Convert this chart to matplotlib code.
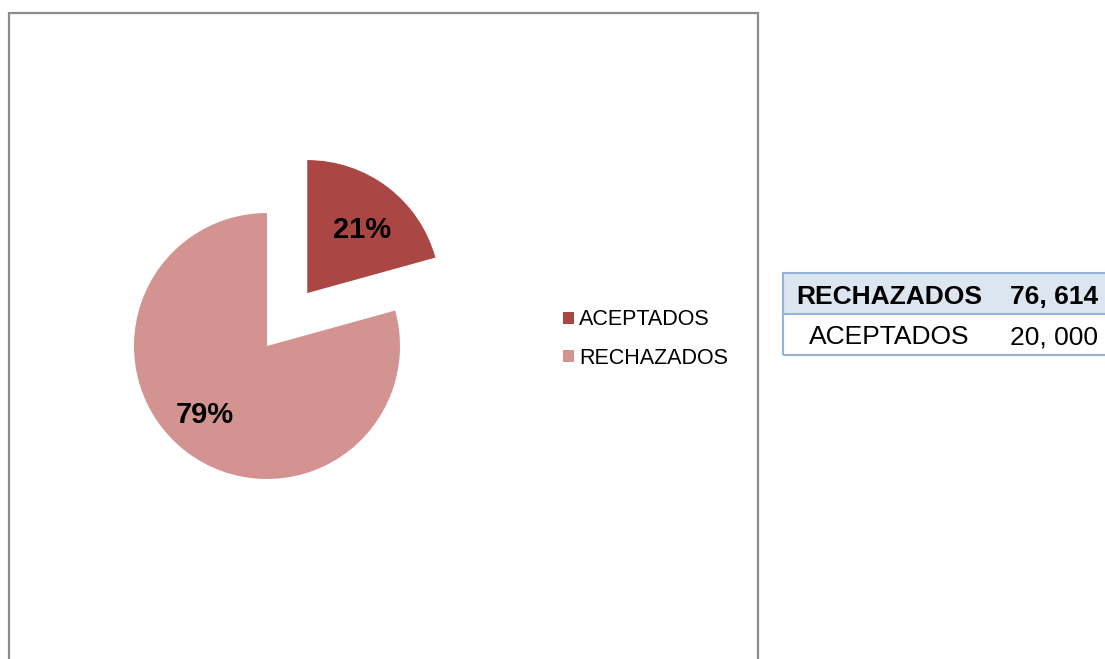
import numpy as np
import matplotlib.pyplot as plt
from matplotlib.patches import Rectangle

plt.rcParams['font.family'] = ['Liberation Sans', 'DejaVu Sans']

# datos
categorias = ['ACEPTADOS', 'RECHAZADOS']
valores = [20000, 76614]
colores = ['#AA4644', '#D39391']
tabla_filas = [('RECHAZADOS', '76, 614'), ('ACEPTADOS', '20, 000')]

W, H = 1105, 659
fig = plt.figure(figsize=(W / 100, H / 100), dpi=100)


def fx(px):
    return px / W


def fy(py):
    return 1 - py / H


# marco del gráfico
fig.patches.append(Rectangle((fx(9), fy(700)), fx(758) - fx(9), fy(13) - fy(700),
                             transform=fig.transFigure, fill=False,
                             edgecolor='#8c8c8c', linewidth=1.6))

# pastel: centro (267, 346) px, radio 133 px
r = 133
half = 200
ax = fig.add_axes([fx(267 - half), fy(346 + half), 2 * half / W, 2 * half / H])
lim = half / r

explode = [0.5, 0]
wedges, _, autotexts = ax.pie(valores, colors=colores, startangle=90,
                              counterclock=False, explode=explode,
                              autopct='%1.0f%%', pctdistance=0.66,
                              textprops=dict(fontsize=21, fontweight='bold',
                                             color='black'),
                              radius=1, frame=True)
ax.axis('off')
ax.set_aspect('equal')
ax.set_xlim(-lim, lim)
ax.set_ylim(-lim, lim)

# colocación de las etiquetas al estilo Excel
dist_etq = [0.65, 0.68]
giro_etq = [-2.5, -6]
for w, t, e, d, g in zip(wedges, autotexts, explode, dist_etq, giro_etq):
    mid = np.deg2rad((w.theta1 + w.theta2) / 2)
    cx, cy = e * np.cos(mid), e * np.sin(mid)
    ang = mid + np.deg2rad(g)
    t.set_position((cx + d * np.cos(ang), cy + d * np.sin(ang)))
    t.set_va('center_baseline')

# leyenda
fig.legend(wedges, categorias, loc='center left',
           bbox_to_anchor=(fx(552), fy(339)), frameon=False,
           fontsize=15.5, handlelength=0.5, handleheight=0.5,
           handletextpad=0.25, labelspacing=0.8, borderpad=0)

# tabla
x0, x1 = 783, 1120
y_filas = [273, 314, 355]
borde = '#95B3D7'
fig.patches.append(Rectangle((fx(x0), fy(y_filas[1])), fx(x1) - fx(x0),
                             fy(y_filas[0]) - fy(y_filas[1]),
                             transform=fig.transFigure, facecolor='#DCE6F1',
                             edgecolor='none'))
fig.patches.append(Rectangle((fx(x0), fy(y_filas[2])), fx(x1) - fx(x0),
                             fy(y_filas[0]) - fy(y_filas[2]),
                             transform=fig.transFigure, fill=False,
                             edgecolor=borde, linewidth=1.5))
fig.add_artist(plt.Line2D([fx(x0), fx(x1)], [fy(y_filas[1])] * 2,
                          transform=fig.transFigure, color=borde, linewidth=1.5))
for i, (nombre, valor) in enumerate(tabla_filas):
    yc = (y_filas[i] + y_filas[i + 1]) / 2 + 3
    peso = 'bold' if i == 0 else 'normal'
    fig.text(fx(889), fy(yc), nombre, ha='center', va='center',
             fontsize=19, fontweight=peso)
    fig.text(fx(1010), fy(yc), valor, ha='left', va='center',
             fontsize=19, fontweight=peso)

fig.savefig('out.png', dpi=100)
